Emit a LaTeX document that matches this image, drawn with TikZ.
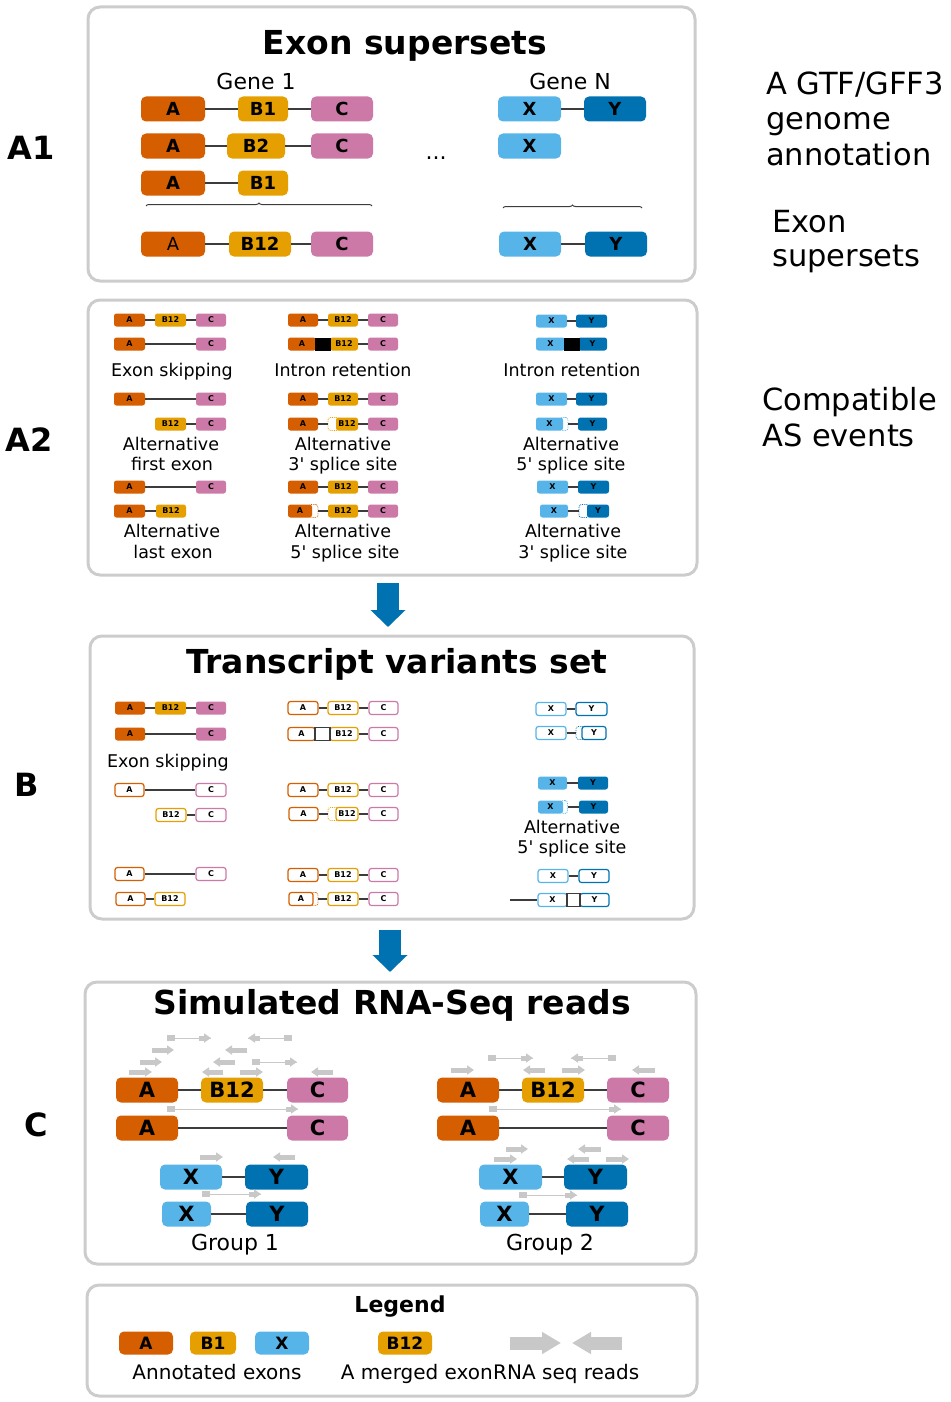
\documentclass[tikz,border=0pt]{standalone}
\usepackage{fontspec}
\setmainfont{DejaVu Sans}[Ligatures=TeXOff]
\usetikzlibrary{arrows.meta, decorations.pathreplacing}

\definecolor{colA}{HTML}{D55E00}
\definecolor{colB}{HTML}{E69F00}
\definecolor{colC}{HTML}{CC79A7}
\definecolor{colX}{HTML}{56B4E9}
\definecolor{colY}{HTML}{0072B2}
\definecolor{panelgray}{HTML}{CCCCCC}
\definecolor{readgray}{HTML}{C8C8C8}
\definecolor{linegray}{HTML}{3C3C3C}

\newcommand{\fs}[1]{\fontsize{#1}{#1}\selectfont}

\tikzset{
  panel/.style={draw=panelgray, line width=3, rounded corners=12},
  title/.style={font=\fs{33}\bfseries, anchor=base, inner sep=0},
  side/.style={font=\fs{30.5}, anchor=base west, inner sep=0},
  tag/.style={font=\fs{32}\bfseries},
  lab/.style={font=\fs{17.5}, anchor=base, inner sep=0},
  wd/.style={minimum width=#1},
  exon/.style={rounded corners=5, minimum height=25, inner sep=0, font=\fs{18}\bfseries},
  big/.style={font=\fs{21}\bfseries},
  sm/.style={rounded corners=2.5, minimum height=13, inner sep=0, font=\fs{8}\bfseries},
  bA/.style={exon, fill=colA}, bB/.style={exon, fill=colB}, bC/.style={exon, fill=colC},
  bX/.style={exon, fill=colX}, bY/.style={exon, fill=colY},
  sA/.style={sm, fill=colA}, sB/.style={sm, fill=colB}, sC/.style={sm, fill=colC},
  sX/.style={sm, fill=colX}, sY/.style={sm, fill=colY},
  oA/.style={sm, draw=colA, fill=white, line width=1.2},
  oB/.style={sm, draw=colB, fill=white, line width=1.2},
  oC/.style={sm, draw=colC, fill=white, line width=1.2},
  oX/.style={sm, draw=colX, fill=white, line width=1.2},
  oY/.style={sm, draw=colY, fill=white, line width=1.2},
  gA/.style={sm, draw=colA, densely dotted, fill=white, line width=0.8},
  gB/.style={sm, draw=colB, densely dotted, fill=white, line width=0.8},
  gX/.style={sm, draw=colX, densely dotted, fill=white, line width=0.8},
  gY/.style={sm, draw=colY, densely dotted, fill=white, line width=0.8},
  ret/.style={sm, fill=black, rounded corners=0},
  oret/.style={sm, draw=linegray, fill=white, rounded corners=0, line width=1.2},
  intron/.style={draw=linegray, line width=1.8},
  sintron/.style={draw=linegray, line width=1.1},
  flatbrace/.style={draw=linegray, line width=1, decorate, decoration={brace, amplitude=3}},
  read/.style={draw=readgray, line width=5, -{Triangle[length=7pt,width=9pt]}},
  bigread/.style={draw=readgray, line width=13, -{Triangle[length=19pt,width=21pt]}},
  mate/.style={draw=readgray, line width=1},
  down/.style={draw=colY, line width=22, -{Triangle[length=17pt,width=34pt]}}
}

\begin{document}
\begin{tikzpicture}[x=1pt, y=-1pt]
\useasboundingbox (0,0) rectangle (950,1402);

% panels
\draw[panel] (88,7) rectangle (695,281);
\draw[panel] (88,300) rectangle (697,575);
\draw[panel] (90,636) rectangle (694,919);
\draw[panel] (85,982) rectangle (696,1264);
\draw[panel] (87,1285) rectangle (697,1396);

% side tags
\node[tag] (tagA1) at (31,148) {A1};
\node[tag] (tagA2) at (29,440) {A2};
\node[tag] (tagB) at (27,785) {B};
\node[tag] (tagC) at (36,1125) {C};

\node[side] (annot1) at (766,95) {A GTF/GFF3};
\node[side] (annot2) at (766,130) {genome};
\node[side] (annot3) at (766,165) {annotation};
\node[side] (super1) at (772,232) {Exon};
\node[side] (super2) at (772,266) {supersets};
\node[side] (compat1) at (762,410) {Compatible};
\node[side] (compat2) at (762,446) {AS events};

% A1: exon supersets
\node[title] (titleA1) at (405,55) {Exon supersets};
\node[font=\fs{22}, anchor=base] (gene1) at (256,90) {Gene 1};
\node[font=\fs{22}, anchor=base] (geneN) at (570,90) {Gene N};
\node[bA, wd=64] (s1A) at (173,109) {A};
\node[bB, wd=50] (s1B) at (263,109) {B1};
\node[bC, wd=62] (s1C) at (342,109) {C};
\node[bX, wd=63] (s1X) at (529.5,109) {X};
\node[bY, wd=62] (s1Y) at (615,109) {Y};
\node[bA, wd=64] (s2A) at (173,146) {A};
\node[bB, wd=58] (s2B) at (256,146) {B2};
\node[bC, wd=62] (s2C) at (342,146) {C};
\node[bX, wd=63] (s2X) at (529.5,146) {X};
\node[bA, wd=64] (s3A) at (173,183) {A};
\node[bB, wd=50] (s3B) at (263,183) {B1};
\node[font=\fs{22}] (dots) at (436,158) {...};
\draw[flatbrace] (146,206) -- (372,206);
\draw[flatbrace] (503,208) -- (642,208);
\node[bA, wd=64] (s4A) at (173,244) {\mdseries A};
\node[bB, wd=62] (s4B) at (260,244) {B12};
\node[bC, wd=62] (s4C) at (342,244) {C};
\node[bX, wd=62] (s4X) at (530,244) {X};
\node[bY, wd=62] (s4Y) at (616,244) {Y};
\draw[intron] (s1A) -- (s1B) -- (s1C) (s1X) -- (s1Y);
\draw[intron] (s2A) -- (s2B) -- (s2C);
\draw[intron] (s3A) -- (s3B);
\draw[intron] (s4A) -- (s4B) -- (s4C) (s4X) -- (s4Y);

% A2: compatible AS events
\node[sA, wd=31] (e1A) at (129.5,320) {A};
\node[sB, wd=31] (e1B) at (170.5,320) {B12};
\node[sC, wd=30] (e1C) at (211,320) {C};
\node[sA, wd=31] (e2A) at (129.5,344) {A};
\node[sC, wd=30] (e2C) at (211,344) {C};
\node[lab] (skipA2) at (172,376) {Exon skipping};
\node[sA, wd=31] (f1A) at (129.5,399) {A};
\node[sC, wd=30] (f1C) at (211,399) {C};
\node[sB, wd=31] (f2B) at (170.5,424) {B12};
\node[sC, wd=30] (f2C) at (211,424) {C};
\node[lab] (firstA) at (171,450) {Alternative};
\node[lab] (firstB) at (172,470) {first exon};
\node[sA, wd=31] (l1A) at (129.5,487) {A};
\node[sC, wd=30] (l1C) at (211,487) {C};
\node[sA, wd=31] (l2A) at (129.5,511) {A};
\node[sB, wd=30] (l2B) at (171,511) {B12};
\node[lab] (lastA) at (172,537) {Alternative};
\node[lab] (lastB) at (173,558) {last exon};

\node[sA, wd=30] (i1A) at (303,320) {A};
\node[sB, wd=30] (i1B) at (343,320) {B12};
\node[sC, wd=30] (i1C) at (383,320) {C};
\node[sA, wd=28] (i2A) at (302,344) {A};
\node[sB, wd=28] (i2B) at (344,344) {B12};
\node[ret, wd=16] (i2R) at (323,344) {};
\node[sC, wd=30] (i2C) at (383,344) {C};
\node[lab] (retA2) at (343,376) {Intron retention};
\node[sA, wd=30] (t1A) at (303,399) {A};
\node[sB, wd=30] (t1B) at (343,399) {B12};
\node[sC, wd=30] (t1C) at (383,399) {C};
\node[sA, wd=30] (t2A) at (303,424) {A};
\node[gB, wd=11] (t2G) at (333.5,424) {};
\node[sB, wd=22] (t2B) at (347,424) {B12};
\node[sC, wd=30] (t2C) at (383,424) {C};
\node[lab] (acc1) at (343,450) {Alternative};
\node[lab] (acc2) at (343,470) {3' splice site};
\node[sA, wd=30] (p1A) at (303,487) {A};
\node[sB, wd=30] (p1B) at (343,487) {B12};
\node[sC, wd=30] (p1C) at (383,487) {C};
\node[gA, wd=9] (p2G) at (313.5,511) {};
\node[sA, wd=24] (p2A) at (300,511) {A};
\node[sB, wd=30] (p2B) at (343,511) {B12};
\node[sC, wd=30] (p2C) at (383,511) {C};
\node[lab] (don1) at (343,537) {Alternative};
\node[lab] (don2) at (345,558) {5' splice site};

\node[sX, wd=31] (j1X) at (551.5,321) {X};
\node[sY, wd=31] (j1Y) at (591.5,321) {Y};
\node[sX, wd=29] (j2X) at (550.5,344) {X};
\node[sY, wd=29] (j2Y) at (592.5,344) {Y};
\node[ret, wd=16] (j2R) at (571.5,344) {};
\node[lab] (retXY) at (572,376) {Intron retention};
\node[sX, wd=31] (k1X) at (551.5,399) {X};
\node[sY, wd=31] (k1Y) at (591.5,399) {Y};
\node[gX, wd=8] (k2G) at (564,424) {};
\node[sX, wd=27] (k2X) at (549.5,424) {X};
\node[sY, wd=29] (k2Y) at (592.5,424) {Y};
\node[lab] (don3) at (571,450) {Alternative};
\node[lab] (don4) at (571,470) {5' splice site};
\node[sX, wd=31] (m1X) at (552.5,487) {X};
\node[sY, wd=31] (m1Y) at (593.5,487) {Y};
\node[sX, wd=28] (m2X) at (554,511) {X};
\node[gY, wd=10] (m2G) at (584,511) {};
\node[sY, wd=22] (m2Y) at (598,511) {Y};
\node[lab] (acc3) at (573,537) {Alternative};
\node[lab] (acc4) at (573,558) {3' splice site};

\draw[sintron] (e1A) -- (e1B) -- (e1C) (e2A) -- (e2C) (f1A) -- (f1C) (f2B) -- (f2C)
  (l1A) -- (l1C) (l2A) -- (l2B);
\draw[sintron] (i1A) -- (i1B) -- (i1C) (i2B) -- (i2C) (t1A) -- (t1B) -- (t1C)
  (t2A) -- (t2G) (t2B) -- (t2C) (p1A) -- (p1B) -- (p1C) (p2G) -- (p2B) -- (p2C);
\draw[sintron] (j1X) -- (j1Y) (k1X) -- (k1Y) (k2G) -- (k2Y) (m1X) -- (m1Y) (m2X) -- (m2G);

\coordinate (arr1s) at (388,583);
\coordinate (arr1e) at (388,627);
\draw[down] (arr1s) -- (arr1e);

% B: transcript variants set
\node[title] (titleB) at (397,673) {Transcript variants set};
\node[sA, wd=30] (v1A) at (130,708) {A};
\node[sB, wd=31] (v1B) at (170.5,708) {B12};
\node[sC, wd=30] (v1C) at (211,708) {C};
\node[sA, wd=30] (v2A) at (130,734) {A};
\node[sC, wd=30] (v2C) at (211,734) {C};
\node[lab] (skipB) at (168,767) {Exon skipping};
\node[oA, wd=29] (v3A) at (129.5,790) {A};
\node[oC, wd=30] (v3C) at (211,790) {C};
\node[oB, wd=30] (v4B) at (171,815) {B12};
\node[oC, wd=30] (v4C) at (211,815) {C};
\node[oA, wd=29] (v5A) at (129.5,874) {A};
\node[oC, wd=30] (v5C) at (211,874) {C};
\node[oA, wd=29] (v6A) at (130.5,899) {A};
\node[oB, wd=30] (v6B) at (170,899) {B12};

\node[oA, wd=30] (w1A) at (303,708) {A};
\node[oB, wd=30] (w1B) at (343,708) {B12};
\node[oC, wd=29] (w1C) at (383.5,708) {C};
\node[oA, wd=27] (w2A) at (301.5,734) {A};
\node[oB, wd=28] (w2B) at (344,734) {B12};
\node[oret, wd=15] (w2R) at (322.5,734) {};
\node[oC, wd=29] (w2C) at (383.5,734) {C};
\node[oA, wd=30] (w3A) at (303,790) {A};
\node[oB, wd=30] (w3B) at (343,790) {B12};
\node[oC, wd=29] (w3C) at (383.5,790) {C};
\node[oA, wd=29] (w4A) at (303.5,814) {A};
\node[gB, wd=11] (w4G) at (333.5,814) {};
\node[oB, wd=22] (w4B) at (347,814) {B12};
\node[oC, wd=29] (w4C) at (383.5,814) {C};
\node[oA, wd=30] (w5A) at (303,875) {A};
\node[oB, wd=30] (w5B) at (343,875) {B12};
\node[oC, wd=29] (w5C) at (383.5,875) {C};
\node[gA, wd=8] (w6G) at (314,899) {};
\node[oA, wd=24] (w6A) at (301,899) {A};
\node[oB, wd=30] (w6B) at (343,899) {B12};
\node[oC, wd=29] (w6C) at (383.5,899) {C};

\node[oX, wd=30] (u1X) at (551,709) {X};
\node[oY, wd=31] (u1Y) at (591.5,709) {Y};
\node[oX, wd=30] (u2X) at (551,733) {X};
\node[gY, wd=9] (u2G) at (580.5,733) {};
\node[oY, wd=24] (u2Y) at (594,733) {Y};
\node[sX, wd=29] (u3X) at (552.5,783) {X};
\node[sY, wd=30] (u3Y) at (593,783) {Y};
\node[gX, wd=7] (u4G) at (564,807) {};
\node[sX, wd=25] (u4X) at (550.5,807) {X};
\node[sY, wd=29] (u4Y) at (593.5,807) {Y};
\node[lab] (don5) at (572,833) {Alternative};
\node[lab] (don6) at (572,853) {5' splice site};
\node[oX, wd=30] (u5X) at (553,876) {X};
\node[oY, wd=30] (u5Y) at (594,876) {Y};
\node[oX, wd=29] (u6X) at (552.5,900) {X};
\node[oY, wd=29] (u6Y) at (594.5,900) {Y};
\node[oret, wd=13] (u6R) at (573.5,900) {};
\coordinate (u6L) at (510,900);

\draw[sintron] (v1A) -- (v1B) -- (v1C) (v2A) -- (v2C) (v3A) -- (v3C) (v4B) -- (v4C)
  (v5A) -- (v5C) (v6A) -- (v6B);
\draw[sintron] (w1A) -- (w1B) -- (w1C) (w2B) -- (w2C) (w3A) -- (w3B) -- (w3C)
  (w4A) -- (w4G) (w4B) -- (w4C) (w5A) -- (w5B) -- (w5C) (w6G) -- (w6B) -- (w6C);
\draw[sintron] (u1X) -- (u1Y) (u2X) -- (u2G) (u3X) -- (u3Y) (u4G) -- (u4Y)
  (u5X) -- (u5Y) (u6L) -- (u6X);

\coordinate (arr2s) at (390,930);
\coordinate (arr2e) at (390,972);
\draw[down] (arr2s) -- (arr2e);

% C: simulated reads
\node[title] (titleC) at (392,1014) {Simulated RNA-Seq reads};
\node[bA, big, wd=62] (q1A) at (147,1090) {A};
\node[bB, big, wd=62] (q1B) at (232,1090) {B12};
\node[bC, big, wd=61] (q1C) at (317.5,1090) {C};
\node[bA, big, wd=62] (q2A) at (147,1128) {A};
\node[bC, big, wd=61] (q2C) at (317.5,1128) {C};
\node[bX, big, wd=62] (q3X) at (191,1177) {X};
\node[bY, big, wd=63] (q3Y) at (276.5,1177) {Y};
\node[bX, big, wd=49] (q4X) at (186.5,1214) {X};
\node[bY, big, wd=62] (q4Y) at (277,1214) {Y};
\node[font=\fs{22}, anchor=base] (group1) at (235,1250) {Group 1};

\node[bA, big, wd=62] (r1A) at (468,1090) {A};
\node[bB, big, wd=62] (r1B) at (553,1090) {B12};
\node[bC, big, wd=62] (r1C) at (638,1090) {C};
\node[bA, big, wd=62] (r2A) at (468,1128) {A};
\node[bC, big, wd=62] (r2C) at (638,1128) {C};
\node[bX, big, wd=63] (r3X) at (510.5,1177) {X};
\node[bY, big, wd=63] (r3Y) at (595.5,1177) {Y};
\node[bX, big, wd=49] (r4X) at (504.5,1214) {X};
\node[bY, big, wd=62] (r4Y) at (597,1214) {Y};
\node[font=\fs{22}, anchor=base] (group2) at (550,1250) {Group 2};

\draw[intron] (q1A) -- (q1B) -- (q1C) (q2A) -- (q2C) (q3X) -- (q3Y) (q4X) -- (q4Y);
\draw[intron] (r1A) -- (r1B) -- (r1C) (r2A) -- (r2C) (r3X) -- (r3Y) (r4X) -- (r4Y);

% single reads: tail/tip/y
\foreach \a/\b/\y in {129/152/1072, 223/202/1072, 240/263/1072, 333/311/1072,
    140/162/1062, 235/213/1062, 152/174/1050, 247/225/1050, 200/223/1157, 295/273/1157,
    451/474/1070, 545/523/1070, 562/585/1070, 655/632/1070, 506/528/1149, 601/578/1149,
    494/517/1159, 589/567/1159, 606/629/1159}
  \draw[read] (\a,\y) -- (\b,\y);
% paired reads: mate/tip/y
\foreach \a/\b/\y in {171/211/1038, 288/248/1038, 256/297/1062, 171/298/1109, 206/261/1194,
    492/533/1058, 612/571/1058, 493/621/1109, 523/577/1195}{
  \fill[readgray] (\a-4,\y-3) rectangle (\a+4,\y+3);
  \draw[mate] (\a,\y) -- (\b,\y);
  \draw[read] ({\b-12*sign(\b-\a)},\y) -- (\b,\y);
}

% legend
\node[font=\fs{22}\bfseries, anchor=base] (legend) at (400,1312) {Legend};
\node[bA, wd=54, minimum height=23, font=\fs{17}\bfseries] (lgA) at (146,1343) {A};
\node[bB, wd=46, minimum height=23, font=\fs{17}\bfseries] (lgB) at (213,1343) {B1};
\node[bX, wd=54, minimum height=23, font=\fs{17}\bfseries] (lgX) at (282,1343) {X};
\node[bB, wd=54, minimum height=23, font=\fs{17}\bfseries] (lgM) at (405,1343) {B12};
\draw[bigread] (510,1343) -- (561,1343);
\draw[bigread] (622,1343) -- (572,1343);
\node[font=\fs{20}, anchor=base] (lgAnnot) at (217,1379) {Annotated exons};
\node[font=\fs{20}, anchor=base east, inner sep=0] (lgMerged) at (493,1379) {A merged exon};
\node[font=\fs{20}, anchor=base west, inner sep=0] (lgReads) at (493,1379) {RNA seq reads};
\end{tikzpicture}
\end{document}
